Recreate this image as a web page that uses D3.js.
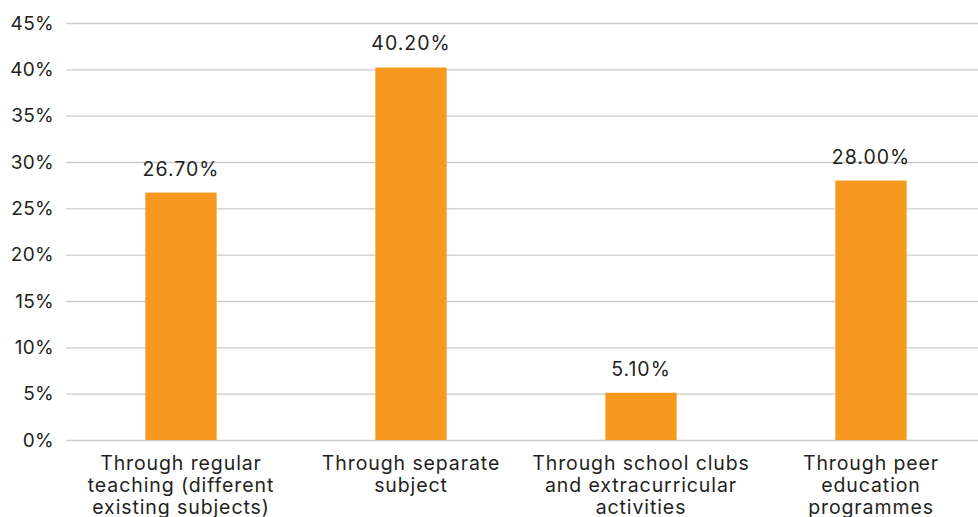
<!DOCTYPE html>
<html>
<head>
<meta charset="utf-8">
<script src="https://d3js.org/d3.v7.min.js"></script>
<style>
  body { margin: 0; background: #fff; }
  svg text { font-family: Inter, "Noto Sans", sans-serif; fill: #231f20; }
</style>
</head>
<body>
<div id="chart"></div>
<script>
var WIDTH = 978;
var HEIGHT = 517;

// chart data
var categories = [
  "Through regular teaching (different existing subjects)",
  "Through separate subject",
  "Through school clubs and extracurricular activities",
  "Through peer education programmes"
];
var categoryLines = [
  ["Through regular", "teaching (different", "existing subjects)"],
  ["Through separate", "subject"],
  ["Through school clubs", "and extracurricular", "activities"],
  ["Through peer", "education", "programmes"]
];
var values = [26.7, 40.2, 5.1, 28.0];
var yTicks = [0, 5, 10, 15, 20, 25, 30, 35, 40, 45];

var margin = {top: 23, left: 66, bottom: 77};

var svg = d3.select("#chart").append("svg")
  .attr("width", WIDTH)
  .attr("height", HEIGHT);

var x = d3.scaleBand()
  .domain(categories)
  .range([margin.left, margin.left + 920])
  .paddingInner(0.69)
  .paddingOuter(0.345);

var y = d3.scaleLinear()
  .domain([0, 45])
  .range([HEIGHT - margin.bottom, margin.top]);

// gridlines + tick labels
var yAxis = d3.axisLeft(y)
  .tickValues(yTicks)
  .tickSize(-(WIDTH - margin.left))
  .tickPadding(12)
  .tickFormat(d => d + "%");

svg.append("g")
  .attr("transform", `translate(${margin.left},0)`)
  .call(yAxis)
  .call(g => g.select(".domain").remove())
  .call(g => g.selectAll(".tick line").attr("stroke", "#cbcbcb").attr("stroke-width", 1.3))
  .call(g => g.selectAll(".tick text")
    .style("font-size", "19px")
    .style("letter-spacing", "0.3px")
    .attr("fill", "#231f20"));

// bars
svg.selectAll("rect.bar")
  .data(values)
  .join("rect")
  .attr("class", "bar")
  .attr("x", (d, i) => x(categories[i]))
  .attr("y", d => y(d))
  .attr("width", x.bandwidth())
  .attr("height", d => y(0) - y(d))
  .attr("fill", "#f7991f");

// value labels
svg.selectAll("text.val")
  .data(values)
  .join("text")
  .attr("class", "val")
  .attr("x", (d, i) => x(categories[i]) + x.bandwidth() / 2)
  .attr("y", d => y(d) - 17)
  .attr("text-anchor", "middle")
  .style("font-size", "19.5px")
  .style("letter-spacing", "1px")
  .text(d => d.toFixed(2) + "%");

// category labels
var labels = svg.selectAll("text.cat")
  .data(categoryLines)
  .join("text")
  .attr("class", "cat")
  .attr("text-anchor", "middle")
  .attr("transform", (d, i) => `translate(${x(categories[i]) + x.bandwidth() / 2},${y(0) + 30})`)
  .style("font-size", "19.5px")
  .style("letter-spacing", "0.9px");

labels.selectAll("tspan")
  .data(d => d)
  .join("tspan")
  .attr("x", 0)
  .attr("y", (d, i) => i * 22)
  .text(d => d);
</script>
</body>
</html>
